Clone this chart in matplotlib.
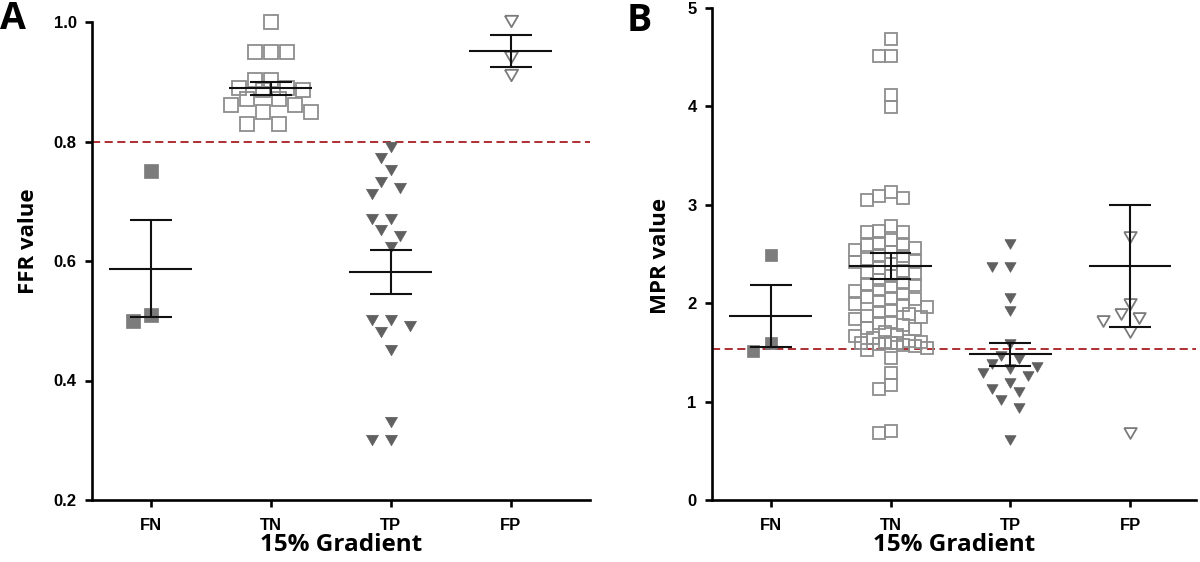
import numpy as np
import matplotlib
matplotlib.use("Agg")
import matplotlib.pyplot as plt

plt.rcParams['font.family'] = ['Liberation Sans', 'DejaVu Sans']
plt.rcParams['font.weight'] = 'bold'

# ---------------- data ----------------
categories = ["FN", "TN", "TP", "FP"]
xlabel_text = "15% Gradient"

ffr_fn = [0.75, 0.50, 0.51]
ffr_tn = [1.00, 0.95, 0.95, 0.95, 0.903, 0.903, 0.89, 0.89, 0.887, 0.887,
          0.871, 0.871, 0.861, 0.861, 0.85, 0.85, 0.83, 0.83]
ffr_tp = [0.791, 0.772, 0.752, 0.733, 0.722, 0.712, 0.671, 0.671, 0.652, 0.642,
          0.624, 0.501, 0.501, 0.491, 0.482, 0.451, 0.331, 0.30, 0.30]
ffr_fp = [1.002, 0.941, 0.911]
ffr_mean = [0.587, 0.889, 0.582, 0.951]
ffr_sem = [0.0815, 0.0105, 0.037, 0.027]
ffr_cutoff = 0.80
ffr_yticks = [0.2, 0.4, 0.6, 0.8, 1.0]

mpr_fn = [2.49, 1.60, 1.51]
mpr_tn = [4.68, 4.51, 4.51, 4.12, 3.99, 3.13, 3.09, 3.07, 3.05, 2.78, 2.73, 2.72,
          2.72, 2.64, 2.60, 2.59, 2.59,
          2.56, 2.54, 2.52, 2.49, 2.48, 2.45, 2.43, 2.42, 2.40, 2.36, 2.33, 2.31,
          2.30, 2.28, 2.24, 2.21, 2.20, 2.19, 2.16, 2.13, 2.12, 2.09, 2.06, 2.05,
          2.04, 2.02, 1.99, 1.98, 1.96, 1.92, 1.91, 1.89, 1.87, 1.86, 1.84, 1.81,
          1.80, 1.78, 1.75, 1.74, 1.71, 1.68, 1.67, 1.65, 1.62, 1.61, 1.61, 1.60,
          1.60, 1.60, 1.59, 1.58, 1.56, 1.54, 1.52,
          1.44, 1.29, 1.17, 1.13, 0.70, 0.68]
mpr_tp = [2.60, 2.37, 2.37, 2.05, 1.92, 1.585, 1.466, 1.43, 1.38, 1.355, 1.33,
          1.29, 1.26, 1.19, 1.128, 1.10, 1.02, 0.94, 0.61]
mpr_fp = [2.676, 1.99, 1.887, 1.846, 1.82, 1.71, 0.684]
mpr_mean = [1.87, 2.38, 1.48, 2.378]
mpr_sem = [0.315, 0.135, 0.12, 0.615]
mpr_cutoff = 1.53
mpr_yticks = [0, 1, 2, 3, 4, 5]

# ---------------- styles ----------------
DPI = 100
fig = plt.figure(figsize=(12, 5.62), dpi=DPI)
LABEL_FONT = ['Open Sans', 'DejaVu Sans']

tri_verts = [(-1, 0.866), (1, 0.866), (0, -0.866), (-1, 0.866)]
styles = [
    dict(marker='s', mfc='#7c7c7c', mec='#7c7c7c', mew=0.5),
    dict(marker='s', mfc='none', mec='#8e8e8e', mew=1.3),
    dict(marker=tri_verts, mfc='#606060', mec='#606060', mew=0.5),
    dict(marker=tri_verts, mfc='none', mec='#7a7a7a', mew=1.3),
]


def swarm(ax, x0, values, coll_px, step_px, max_half_px):
    """Simple beeswarm (euclidean collision in pixel space); returns x positions."""
    vals = np.asarray(values, float)
    pts = ax.transData.transform(np.column_stack([np.full(len(vals), x0), vals]))
    ys = pts[:, 1]
    px_per_x = (ax.transData.transform((x0 + 1, 0))[0] - ax.transData.transform((x0, 0))[0])
    nmax = int(max_half_px // step_px)
    cands = [0.0]
    for k in range(1, nmax + 1):
        cands += [-k * step_px, k * step_px]
    placed = []
    offs = np.zeros(len(vals))
    order = np.argsort(-ys)
    for i in order:
        y = ys[i]
        chosen = None
        best, bestd = 0.0, -1.0
        for c in cands:
            if placed:
                arr = np.array(placed)
                d = np.hypot(arr[:, 0] - c, arr[:, 1] - y).min()
            else:
                d = np.inf
            if d >= coll_px:
                chosen = c
                break
            if d > bestd + 0.5:
                bestd, best = d, c
        if chosen is None:
            chosen = best
        placed.append((chosen, y))
        offs[i] = chosen
    return x0 + offs / px_per_x


def panel(rect, xmax, groups, means, sems, cutoff, yticks, ylim, ylabel, ytickfmt,
          ylabel_xy, letter, letter_xy, ms_list, coll_list, step_list, maxhalf_list):
    ax = fig.add_axes(rect)
    ax.set_xlim(-0.49, xmax)
    ax.set_ylim(*ylim)
    for s in ['top', 'right']:
        ax.spines[s].set_visible(False)
    for s in ['left', 'bottom']:
        ax.spines[s].set_linewidth(1.9)
    ax.set_yticks(yticks)
    ax.set_yticklabels([ytickfmt.format(t) for t in yticks], fontsize=12, fontweight='bold')
    ax.set_xticks(range(len(categories)))
    ax.set_xticklabels(categories, fontsize=12, fontweight='bold')
    ax.tick_params(axis='y', width=1.9, length=5, pad=6)
    ax.tick_params(axis='x', width=1.9, length=5, pad=8)
    ax.set_ylabel(ylabel, fontsize=16, fontweight='bold', family=LABEL_FONT)
    ax.yaxis.set_label_coords(ylabel_xy[0], ylabel_xy[1])
    ax.set_xlabel(xlabel_text, fontsize=17.5, fontweight='bold', labelpad=0, family=LABEL_FONT)

    ax.axhline(cutoff, color='#a81e22', lw=1.3, ls=(0, (4.5, 2.5)), zorder=1.5)

    for i, vals in enumerate(groups):
        xs = swarm(ax, i, vals, coll_list[i], step_list[i], maxhalf_list[i])
        ax.plot(xs, vals, ls='none', ms=ms_list[i], zorder=2, clip_on=False, **styles[i])

    for i, (m, se) in enumerate(zip(means, sems)):
        kw = dict(color='#111111', lw=1.5, zorder=3, solid_capstyle='butt')
        ax.plot([i - 0.345, i + 0.345], [m, m], **kw)
        ax.plot([i - 0.175, i + 0.175], [m + se, m + se], **kw)
        ax.plot([i - 0.175, i + 0.175], [m - se, m - se], **kw)
        ax.plot([i, i], [m - se, m + se], **kw)

    fig.text(letter_xy[0], letter_xy[1], letter, fontsize=27, fontweight='bold',
             ha='left', va='top', family=LABEL_FONT)
    return ax


panel([92 / 1200, 62 / 562, (590 - 92) / 1200, (500 - 22) / 562], 3.66,
      [ffr_fn, ffr_tn, ffr_tp, ffr_fp], ffr_mean, ffr_sem, ffr_cutoff,
      ffr_yticks, (0.2, 1.0), "FFR value", "{:.1f}", (-0.106, 0.542),
      "A", (0.0, 1.0),
      ms_list=[10, 10, 8.6, 9.5], coll_list=[15, 16, 13, 14],
      step_list=[9, 8, 9.6, 9], maxhalf_list=[40, 42, 40, 40])

panel([712 / 1200, 62 / 562, (1196 - 712) / 1200, (500 - 8) / 562], 3.55,
      [mpr_fn, mpr_tn, mpr_tp, mpr_fp], mpr_mean, mpr_sem, mpr_cutoff,
      mpr_yticks, (0, 5), "MPR value", "{:.0f}", (-0.085, 0.496),
      "B", (0.522, 0.996),
      ms_list=[9.3, 9.1, 8.0, 9.0], coll_list=[13, 10, 12, 13],
      step_list=[9, 6, 9, 9], maxhalf_list=[40, 36, 40, 40])

fig.savefig("out.png", dpi=DPI)
